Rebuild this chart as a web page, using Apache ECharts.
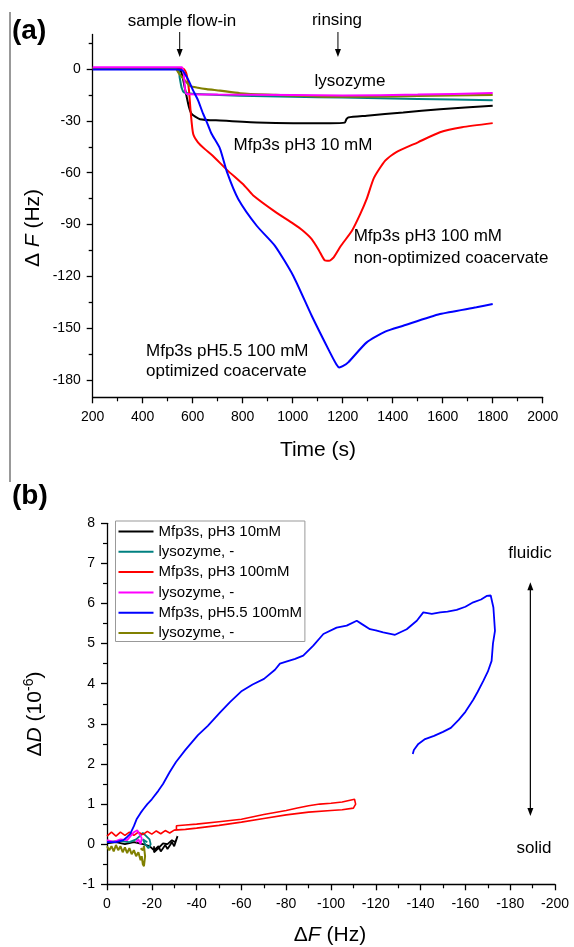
<!DOCTYPE html>
<html>
<head>
<meta charset="utf-8">
<script src="https://cdn.jsdelivr.net/npm/echarts@6/dist/echarts.min.js"></script>
<style>
  html, body { margin: 0; padding: 0; background: #fff; }
  #main { width: 574px; height: 947px; }
</style>
</head>
<body>
<div id="main"></div>
<script>
// ---- panel (a): frequency shift vs time, [time s, dF Hz] ----
var blackA = [[200,0.3],[540,0.3],[555,-2],[570,-12],[585,-22],[596,-26],[629,-29],[709,-29.8],[856,-30.9],[1002,-31.3],[1150,-31.3],[1208,-31],[1215,-29],[1222,-28],[1296,-27],[1442,-25.1],[1589,-23.2],[1800,-21.2]];
var tealA = [[200,0.5],[540,0.5],[548,-5],[556,-11],[565,-13.5],[600,-14.3],[789,-15.4],[1000,-16],[1200,-16.5],[1500,-17.3],[1800,-18]];
var redA = [[200,0.3],[560,0.3],[570,-1],[577,-4],[585,-12],[592,-25],[602,-37.6],[621,-42.4],[650,-46.5],[680,-50.2],[738,-58.5],[807,-67.5],[841,-73],[929,-82.5],[1002,-89.5],[1040,-93.5],[1076,-98.5],[1105,-105],[1127,-110.6],[1145,-111],[1164,-109],[1193,-102.3],[1237,-93.6],[1270,-84],[1296,-75.2],[1325,-63],[1370,-53],[1413,-48.2],[1501,-42.4],[1589,-36.6],[1677,-33.7],[1800,-31.3]];
var magentaA = [[200,1],[556,1],[566,-6],[576,-14.5],[700,-14.8],[1000,-15],[1200,-15.3],[1500,-14.8],[1800,-13.9]];
var blueA = [[200,-0.3],[545,-0.3],[560,-1],[569,-2.9],[585,-7],[602,-12.5],[621,-18],[642,-26],[660,-32],[676,-37.6],[709,-46],[738,-60],[782,-75.2],[856,-90.7],[929,-102.3],[1002,-119.6],[1076,-142.8],[1149,-164],[1175,-171],[1186,-172.7],[1200,-172],[1222,-169.8],[1296,-158.2],[1370,-152],[1442,-148.6],[1589,-141.8],[1735,-137.9],[1800,-136]];
var oliveA = [[200,0.5],[529,0.5],[545,-2.5],[562,-5.5],[589,-9.7],[621,-10.8],[656,-11.6],[709,-12.5],[789,-14],[900,-14.8],[1150,-16],[1300,-16],[1500,-15.6],[1800,-15]];
var yTicksA = [-180,-150,-120,-90,-60,-30,0];
var yMinorA = [-165,-135,-105,-75,-45,-15,15];

// ---- panel (b): dissipation vs frequency, [dF Hz, dD 1e-6] ----
var blackB = [[0,0.02],[-4,0.05],[-8,0.0],[-12,0.05],[-16,0.0],[-19,-0.05],[-21,-0.15],[-23,-0.05],[-24,-0.18],[-26,-0.02],[-27,-0.12],[-29,0.05],[-30,-0.05],[-31,0.12],[-31.5,0.2],[-30.5,0.05],[-29,0.1],[-27,0.0],[-25,0.02],[-23,-0.1],[-21,-0.2],[-21,-0.05]];
var tealB = [[0,0.05],[-5,0.08],[-10,0.05],[-13,0.12],[-15,0.22],[-16,0.28],[-17.5,0.2],[-19,0.12],[-19.5,0.0],[-18.5,-0.1],[-17,0.0],[-16,0.12],[-18,0.05]];
var redB = [[0,0.2],[-2,0.3],[-4,0.2],[-6,0.3],[-8,0.22],[-10,0.3],[-12,0.22],[-14,0.3],[-16,0.24],[-18,0.32],[-20,0.25],[-22,0.33],[-24,0.26],[-26,0.34],[-28,0.28],[-30,0.35],[-35,0.37],[-40,0.4],[-50,0.47],[-60,0.55],[-70,0.64],[-80,0.73],[-90,0.8],[-100,0.84],[-105,0.86],[-110,0.9],[-111,1.0],[-110.5,1.12],[-105,1.05],[-100,1.02],[-95,1.0],[-90,0.96],[-85,0.9],[-80,0.84],[-70,0.74],[-60,0.62],[-50,0.56],[-40,0.5],[-35,0.48],[-31,0.46],[-31,0.34]];
var magentaB = [[0,0.1],[-3,0.06],[-6,0.12],[-9,0.1],[-10.5,0.2],[-12,0.3],[-13.5,0.35],[-14.5,0.25],[-15.5,0.15],[-15,0.0],[-14,0.12],[-13,0.05]];
var blueB = [[0,0.05],[-4,0.05],[-7.3,0.1],[-9,0.18],[-10.3,0.25],[-12,0.45],[-13.2,0.62],[-15,0.78],[-16.2,0.87],[-18,1.0],[-20,1.12],[-22.9,1.33],[-25,1.5],[-28,1.8],[-30.8,2.05],[-35,2.35],[-40.6,2.72],[-45,2.95],[-50.4,3.28],[-55,3.55],[-60.2,3.82],[-65,3.98],[-70.1,4.12],[-75,4.35],[-77.2,4.5],[-80,4.55],[-84,4.62],[-87.6,4.7],[-92.1,4.95],[-96.6,5.24],[-102.5,5.4],[-107,5.45],[-111.5,5.57],[-114,5.48],[-117.4,5.36],[-120,5.33],[-123.3,5.28],[-128.6,5.22],[-133.8,5.36],[-138.3,5.57],[-141.2,5.78],[-145,5.74],[-148.7,5.78],[-152,5.8],[-156.1,5.84],[-160,5.92],[-163.5,6.03],[-167,6.1],[-169.5,6.19],[-171.3,6.2],[-172.5,5.9],[-173.2,5.32],[-172.3,5.0],[-171.7,4.57],[-170,4.3],[-168,4.07],[-165.5,3.8],[-163.5,3.6],[-160,3.3],[-157,3.1],[-153.5,2.9],[-150,2.8],[-146,2.7],[-142,2.62],[-139,2.5],[-137,2.35],[-136.5,2.25]];
var oliveB = [[0,-0.05],[-1,-0.15],[-2,-0.05],[-3,-0.18],[-4,-0.02],[-5,-0.15],[-6,-0.05],[-7,-0.2],[-8,-0.08],[-9,-0.22],[-10,-0.1],[-11,-0.25],[-12,-0.15],[-13,-0.3],[-14,-0.2],[-15,-0.4],[-15.5,-0.3],[-16,-0.5],[-16.5,-0.55],[-17,-0.3],[-16.5,-0.05],[-16,-0.15],[-15,-0.1]];

var legendNames = ['Mfp3s, pH3 10mM', 'lysozyme, -', 'Mfp3s, pH3 100mM', 'lysozyme, - ', 'Mfp3s, pH5.5 100mM', 'lysozyme, -  '];
var colors = ['#000000', '#008080', '#ff0000', '#ff00ff', '#0000ff', '#808000'];

var FONT = "'Liberation Sans', Arial, sans-serif";
var chart = echarts.init(document.getElementById('main'));

var axisBase = {
  axisLine: { show: true, onZero: false, lineStyle: { color: '#000', width: 1.3 } },
  axisTick: { show: true, length: 6, lineStyle: { color: '#000', width: 1.3 } },
  minorTick: { show: true, splitNumber: 2, length: 4, lineStyle: { color: '#000', width: 1.2 } },
  splitLine: { show: false },
  minorSplitLine: { show: false },
  axisLabel: { color: '#000', fontSize: 14, fontFamily: FONT, formatter: function (v) { return String(v); } }
};
function ax(extra) { return echarts.util.merge(echarts.util.clone(axisBase), extra, true); }

function line(name, data, color, xi, yi, w, smooth) {
  return {
    name: name, type: 'line', data: data, xAxisIndex: xi, yAxisIndex: yi,
    symbol: 'none', smooth: smooth,
    lineStyle: { color: color, width: w }, itemStyle: { color: color },
    emphasis: { disabled: true }
  };
}

chart.setOption({
  animation: false,
  backgroundColor: '#fff',
  textStyle: { fontFamily: FONT },
  grid: [
    { left: 92.7, top: 34.5, width: 450, height: 362.8 },
    { left: 107, top: 523.3, width: 448, height: 361 }
  ],
  xAxis: [
    ax({ gridIndex: 0, type: 'value', min: 200, max: 2000, interval: 200, axisLabel: { margin: 13 } }),
    ax({ gridIndex: 1, type: 'value', min: -200, max: 0, interval: 20, inverse: true, axisLabel: { margin: 13 } })
  ],
  yAxis: [
    ax({ gridIndex: 0, type: 'value', min: -190, max: 20, minorTick: { show: false },
         axisTick: { customValues: yTicksA }, axisLabel: { customValues: yTicksA, margin: 12 } }),
    ax({ gridIndex: 0, type: 'value', min: -190, max: 20, position: 'left', minorTick: { show: false },
         axisLine: { show: false }, axisLabel: { show: false },
         axisTick: { customValues: yMinorA, length: 4 } }),
    ax({ gridIndex: 1, type: 'value', min: -1, max: 8, interval: 1, axisLabel: { margin: 12 } })
  ],
  legend: {
    data: legendNames,
    formatter: function (n) { return n.trim(); },
    orient: 'vertical', left: 115.5, top: 521,
    itemWidth: 35, itemHeight: 14, itemGap: 5.3,
    padding: [3, 3, 1, 2],
    borderColor: '#999', borderWidth: 1, backgroundColor: '#fff',
    itemStyle: { opacity: 0 },
    lineStyle: { width: 2 },
    textStyle: { fontSize: 15, color: '#000', fontFamily: FONT },
    selectedMode: false
  },
  series: [
    line('a1', blackA, colors[0], 0, 0, 2, 0.2),
    line('a2', tealA, colors[1], 0, 0, 2, 0.2),
    line('a3', redA, colors[2], 0, 0, 2, 0.2),
    line('a6', oliveA, colors[5], 0, 0, 2.2, 0.2),
    line('a4', magentaA, colors[3], 0, 0, 2, 0.2),
    line('a5', blueA, colors[4], 0, 0, 2, 0.2),
    line(legendNames[0], blackB, colors[0], 1, 2, 1.8, false),
    line(legendNames[1], tealB, colors[1], 1, 2, 1.8, false),
    line(legendNames[2], redB, colors[2], 1, 2, 1.6, false),
    line(legendNames[3], magentaB, colors[3], 1, 2, 1.8, false),
    line(legendNames[4], blueB, colors[4], 1, 2, 1.8, false),
    line(legendNames[5], oliveB, colors[5], 1, 2, 2, false)
  ]
});

function txt(x, y, s, size, align, extra) {
  var st = { text: s, fontSize: size, fontFamily: FONT, fill: '#000',
             align: align, textAlign: align, verticalAlign: 'middle', textVerticalAlign: 'middle' };
  if (extra) echarts.util.extend(st, extra);
  return { type: 'text', x: x, y: y, style: st, silent: true };
}
function arrowDown(x, y1, y2) {
  return [
    { type: 'line', shape: { x1: x, y1: y1, x2: x, y2: y2 - 6 }, style: { stroke: '#000', lineWidth: 1 }, silent: true },
    { type: 'polygon', shape: { points: [[x - 3, y2 - 8], [x + 3, y2 - 8], [x, y2]] }, style: { fill: '#000' }, silent: true }
  ];
}

var xFlow = chart.convertToPixel({ xAxisIndex: 0 }, 548);
var xRinse = chart.convertToPixel({ xAxisIndex: 0 }, 1181);
var dArrow = chart.convertToPixel({ xAxisIndex: 1, yAxisIndex: 2 }, [-189, 6.53]);
var dArrowEnd = chart.convertToPixel({ xAxisIndex: 1, yAxisIndex: 2 }, [-189, 0.7]);

var g = [
  { type: 'line', shape: { x1: 10, y1: 12, x2: 10, y2: 482 }, style: { stroke: '#777', lineWidth: 1.5 }, silent: true },
  txt(12, 31, '(a)', 28, 'left', { fontWeight: 'bold' }),
  txt(12, 496, '(b)', 28, 'left', { fontWeight: 'bold' }),
  txt(182, 21.7, 'sample flow-in', 17, 'center'),
  txt(337, 20, 'rinsing', 17, 'center'),
  txt(350, 81, 'lysozyme', 17, 'center'),
  txt(233.5, 145, 'Mfp3s pH3 10 mM', 17, 'left'),
  txt(353.7, 236.7, 'Mfp3s pH3 100 mM', 17, 'left'),
  txt(353.7, 258.3, 'non-optimized coacervate', 17, 'left'),
  txt(146, 351.7, 'Mfp3s pH5.5 100 mM', 17, 'left'),
  txt(146, 371.7, 'optimized coacervate', 17, 'left'),
  txt(530, 553, 'fluidic', 17, 'center'),
  txt(534, 848, 'solid', 17, 'center'),
  txt(318, 450, 'Time (s)', 21, 'center'),
  txt(330, 935, 'Δ{i|F} (Hz)', 21, 'center', { rich: { i: { fontStyle: 'italic', fontSize: 21, fontFamily: FONT } } }),
  (function () { var t = txt(33, 228, 'Δ {i|F} (Hz)', 21, 'center', { rich: { i: { fontStyle: 'italic', fontSize: 21, fontFamily: FONT } } }); t.rotation = Math.PI / 2; return t; })(),
  (function () {
    var t = txt(35, 714, '{n|Δ}{i|D}{n| (10}{s|-6}{n|)}', 21, 'center', { rich: {
      n: { fontSize: 21, fontFamily: FONT, lineHeight: 26 },
      i: { fontSize: 21, fontFamily: FONT, fontStyle: 'italic', lineHeight: 26 },
      s: { fontSize: 14, fontFamily: FONT, lineHeight: 14, verticalAlign: 'top' } } });
    t.rotation = Math.PI / 2; return t;
  })()
];
g = g.concat(arrowDown(xFlow, 32, 57), arrowDown(xRinse, 32, 57));
// double-headed arrow fluidic / solid
var ax0 = dArrow[0], ya = dArrow[1], yb = dArrowEnd[1];
g.push({ type: 'line', shape: { x1: ax0, y1: ya + 6, x2: ax0, y2: yb - 6 }, style: { stroke: '#000', lineWidth: 1.2 }, silent: true });
g.push({ type: 'polygon', shape: { points: [[ax0 - 3, ya + 8], [ax0 + 3, ya + 8], [ax0, ya]] }, style: { fill: '#000' }, silent: true });
g.push({ type: 'polygon', shape: { points: [[ax0 - 3, yb - 8], [ax0 + 3, yb - 8], [ax0, yb]] }, style: { fill: '#000' }, silent: true });

chart.setOption({ graphic: g });
</script>
</body>
</html>
